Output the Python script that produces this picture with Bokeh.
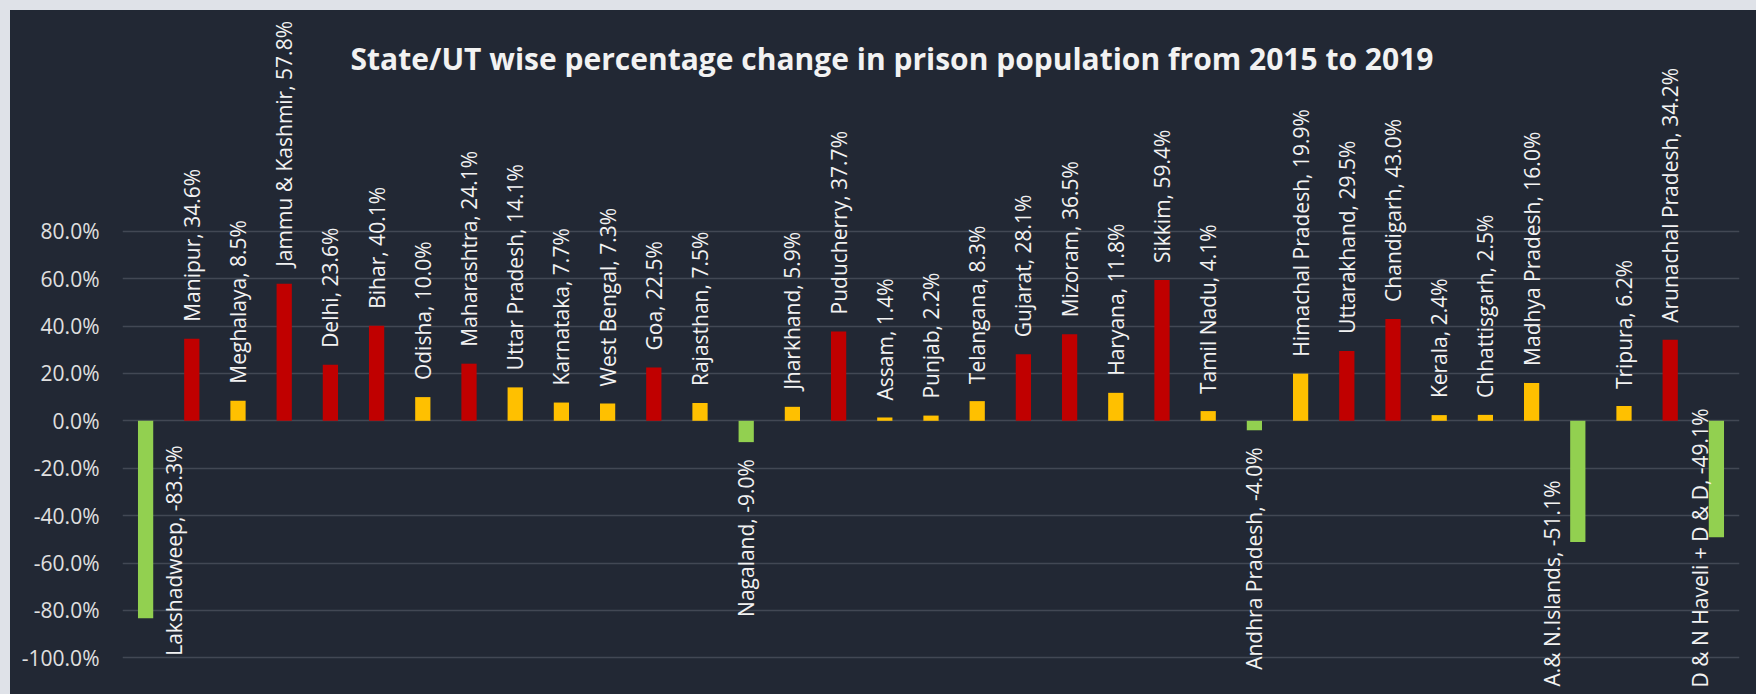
import math
from bokeh.plotting import figure
from bokeh.layouts import column
from bokeh.models import Range1d, FixedTicker, NumeralTickFormatter, ColumnDataSource, Label
from bokeh.core.properties import value
from bokeh.embed import file_html
from bokeh.resources import INLINE

# ---------------- data ----------------
states = [
    "Lakshadweep", "Manipur", "Meghalaya", "Jammu & Kashmir", "Delhi", "Bihar",
    "Odisha", "Maharashtra", "Uttar Pradesh", "Karnataka", "West Bengal", "Goa",
    "Rajasthan", "Nagaland", "Jharkhand", "Puducherry", "Assam", "Punjab",
    "Telangana", "Gujarat", "Mizoram", "Haryana", "Sikkim", "Tamil Nadu",
    "Andhra Pradesh", "Himachal Pradesh", "Uttarakhand", "Chandigarh", "Kerala",
    "Chhattisgarh", "Madhya Pradesh", "A.& N.Islands", "Tripura",
    "Arunachal Pradesh", "D & N Haveli + D & D",
]
pct_change = [
    -83.3, 34.6, 8.5, 57.8, 23.6, 40.1,
    10.0, 24.1, 14.1, 7.7, 7.3, 22.5,
    7.5, -9.0, 5.9, 37.7, 1.4, 2.2,
    8.3, 28.1, 36.5, 11.8, 59.4, 4.1,
    -4.0, 19.9, 29.5, 43.0, 2.4,
    2.5, 16.0, -51.1, 6.2,
    34.2, -49.1,
]
y_ticks = [-1.0, -0.8, -0.6, -0.4, -0.2, 0.0, 0.2, 0.4, 0.6, 0.8]
title_text = "State/UT wise percentage change in prison population from 2015 to 2019"

# ---------------- style / geometry ----------------
BG = "#222834"
PAGE_BG = "#dfe2e8"
RED, YELLOW, GREEN = "#C00000", "#FFC000", "#92D050"
FIG_X0, FIG_Y0 = 10, 10           # figure origin on the page (gray frame around)
FIG_W, FIG_H = 1756 - FIG_X0, 694 - FIG_Y0
FRAME_LEFT_PAGE, FRAME_RIGHT_PAGE = 122.5, 1739
FRAME_TOP_PAGE = 12
B_LEFT = round(FRAME_LEFT_PAGE - FIG_X0)
B_RIGHT = round(FIG_X0 + FIG_W - FRAME_RIGHT_PAGE)
B_TOP = FRAME_TOP_PAGE - FIG_Y0
B_BOTTOM = 0
FRAME_W = FIG_W - B_LEFT - B_RIGHT
FRAME_H = FIG_H - B_TOP - B_BOTTOM
PX_PER_UNIT = 237.0               # pixels per 100 %
ZERO_PAGE_Y = 420.3               # page y of the 0 % line
N = len(states)
PX_PER_CAT = FRAME_W / N
Y1 = (ZERO_PAGE_Y - FRAME_TOP_PAGE) / PX_PER_UNIT
Y0 = Y1 - FRAME_H / PX_PER_UNIT

def dy(px):
    return px / PX_PER_UNIT

def dx(px):
    return px / PX_PER_CAT

# manual label placements for long negative labels (x shift px, top of text px below zero)
label_adjust = {
    "Lakshadweep": (28, 24.7),
    "A.& N.Islands": (-25.6, 59.7),
    "D & N Haveli + D & D": (-16.5, -12.3),
}

xs = list(range(N))
ys = [v / 100.0 for v in pct_change]
colors = [GREEN if v < 0 else (RED if v > 20 else YELLOW) for v in pct_change]

p = figure(
    frame_width=FRAME_W, frame_height=FRAME_H,
    min_border_left=B_LEFT, min_border_right=B_RIGHT,
    min_border_top=B_TOP, min_border_bottom=B_BOTTOM,
    x_range=Range1d(-0.5, N - 0.5), y_range=Range1d(Y0, Y1),
    output_backend="svg", toolbar_location=None,
    background_fill_color=BG, border_fill_color=BG,
)
p.outline_line_color = None

p.vbar(x=xs, top=ys, bottom=0, width=0.33, fill_color=colors, line_color=None)

# data labels
pos_src = dict(x=[], y=[], t=[])
neg_src = dict(x=[], y=[], t=[])
for i, (s, v) in enumerate(zip(states, pct_change)):
    txt = f"{s}, {v:.1f}%"
    yv = v / 100.0
    if v >= 0:
        pos_src["x"].append(i)
        pos_src["y"].append(yv + dy(17))
        pos_src["t"].append(txt)
    else:
        if s in label_adjust:
            sx, top = label_adjust[s]
            neg_src["x"].append(i + dx(sx))
            neg_src["y"].append(-dy(top))
        else:
            neg_src["x"].append(i)
            neg_src["y"].append(yv - dy(17))
        neg_src["t"].append(txt)

common = dict(angle=math.pi / 2, text_baseline="middle", text_color="#F2F2F2",
              text_font=value("Open Sans"), text_font_size="21px")
p.text(x="x", y="y", text="t", source=ColumnDataSource(pos_src), text_align="left", **common)
p.text(x="x", y="y", text="t", source=ColumnDataSource(neg_src), text_align="right", **common)

# title
title_center_page = 892
title_baseline_page = 57.5
p.add_layout(Label(
    x=-0.5 + dx(title_center_page - FRAME_LEFT_PAGE), y=dy(ZERO_PAGE_Y - title_baseline_page),
    text=title_text,
    text_align="center", text_baseline="alphabetic", text_color="#F2F2F2",
    text_font="Open Sans", text_font_style="bold", text_font_size="30px",
))

# axes / grid
p.xaxis.visible = False
p.xgrid.visible = False
p.yaxis.ticker = FixedTicker(ticks=y_ticks)
p.yaxis.formatter = NumeralTickFormatter(format="0.0%")
p.yaxis.axis_line_color = None
p.yaxis.major_tick_line_color = None
p.yaxis.minor_tick_line_color = None
p.yaxis.major_tick_out = 0
p.yaxis.major_tick_in = 0
p.yaxis.major_label_standoff = 23
p.yaxis.major_label_text_font = "Open Sans"
p.yaxis.major_label_text_font_size = "21px"
p.yaxis.major_label_text_color = "#E0E0E0"
p.ygrid.grid_line_color = "#424854"
p.ygrid.grid_line_width = 1.5

layout = column(p, sizing_mode="stretch_width",
                styles={"background-color": BG,
                        "border-top": f"{FIG_Y0}px solid {PAGE_BG}",
                        "border-left": f"{FIG_X0}px solid {PAGE_BG}"})

open("out.html", "w").write(file_html(layout, INLINE))
